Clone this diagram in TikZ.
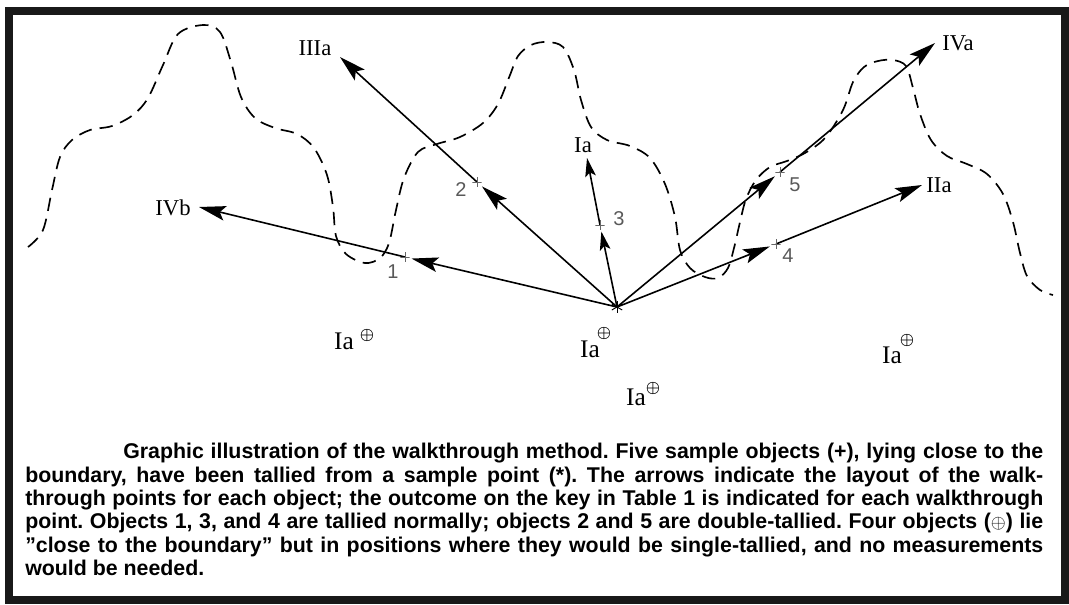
\documentclass[tikz,border=0pt]{standalone}
\usepackage{fontspec}
\setmainfont{Liberation Serif}
\newfontfamily\capfont{Liberation Sans}
\usetikzlibrary{arrows.meta}
\begin{document}
\begin{tikzpicture}[x=0.75pt,y=-0.75pt,
  arr/.style={line width=1.2pt, shorten >=5pt, -{Stealth[length=20pt,width=11pt,inset=4pt]}},
  arrw/.style={line width=1.2pt, -{Stealth[length=20pt,width=11pt,inset=4pt]}},
  arrs/.style={line width=1.2pt, shorten >=5pt, -{Stealth[length=14pt,width=8pt,inset=3pt]}},
  arrsw/.style={line width=1.2pt, -{Stealth[length=14pt,width=8pt,inset=3pt]}},
  bnd/.style={line width=1.25pt, dash pattern=on 10pt off 6pt},
  walk/.style={font=\fontsize{17}{17}\selectfont, inner sep=0pt},
  iaf/.style={font=\fontsize{19}{19}\selectfont, inner sep=0pt},
  supmark/.style={font=\fontsize{12}{12}\selectfont\boldmath, inner sep=0pt},
  num/.style={font=\capfont\fontsize{15}{15}\selectfont, inner sep=0pt, text=black!65},
  plusmark/.style={minimum size=7pt, inner sep=0pt,
    path picture={\draw[line width=0.6pt, black!60]
      (path picture bounding box.north) -- (path picture bounding box.south)
      (path picture bounding box.west) -- (path picture bounding box.east);}},
  starmark/.style={minimum size=9pt, inner sep=0pt,
    path picture={\foreach \a in {90,30,150}{\draw[line width=0.7pt]
      (path picture bounding box.center) ++(\a:4.5pt) -- ++(\a+180:9pt);}}}
]
\useasboundingbox (0,0) rectangle (1069,604);
% frame
\draw[line width=6pt, black!90] (9,11) rectangle (1065,600);

% boundary
\draw[bnd] plot[smooth, tension=0.55] coordinates {
(28,247) (43,230) (52,190) (60,157) (72,140) (90,130) (112,126) (133,115)
(148,98) (163,65) (178,34) (203,25) (220,32) (231,62) (241,97) (255,118)
(275,128) (297,134) (314,148) (327,175) (333,207) (336,236) (346,254)
(365,263) (380,258) (389,243) (396,210) (404,178) (418,152) (437,144)
(460,137) (483,123) (498,104) (510,75) (518,56) (531,45) (547,42) (563,47)
(574,70) (581,100) (591,127) (607,140) (630,146) (650,158) (665,184)
(675,217) (680,250) (690,268) (705,277) (718,278) (728,268) (734,248)
(740,222) (746,199) (756,180) (770,167) (787,161) (805,153) (825,138)
(843,110) (853,82) (864,67) (878,61) (893,60) (906,66) (913,88) (920,114)
(931,140) (947,156) (967,164) (987,174) (1003,194) (1013,222) (1020,253)
(1027,276) (1040,290) (1053,295)};

% sample point and objects
\coordinate (S) at (617,307);
\coordinate (o1) at (405,257);
\coordinate (o2) at (477,182);
\coordinate (o3) at (600,225);
\coordinate (o4) at (776,244);
\coordinate (o5) at (780,172);
% walkthrough points
\coordinate (wIVb) at (199,207);
\coordinate (wIIIa) at (340,57);
\coordinate (wIa) at (587,158);
\coordinate (wIVa) at (935,43);
\coordinate (wIIa) at (922,185);

\draw[arr] (S) -- (o1);
\draw[arrw] (o1) -- (wIVb);
\draw[arr] (S) -- (o2);
\draw[arrw] (o2) -- (wIIIa);
\draw[arrs] (S) -- (o3);
\draw[arrsw] (o3) -- (wIa);
\draw[arr] (S) -- (o4);
\draw[arrw] (o4) -- (wIIa);
\draw[arr] (S) -- (o5);
\draw[arrw] (o5) -- (wIVa);

\node[starmark] (star) at (S) {};
\node[plusmark] (p1) at (o1) {};
\node[plusmark] (p2) at (o2) {};
\node[plusmark] (p3) at (o3) {};
\node[plusmark] (p4) at (o4) {};
\node[plusmark] (p5) at (o5) {};

\node[num] (n1) at (393,272) {1};
\node[num] (n2) at (461,190) {2};
\node[num] (n3) at (619,219) {3};
\node[num] (n4) at (788,256) {4};
\node[num] (n5) at (795,185) {5};

\node[walk] (lIVb) at (173,208) {IVb};
\node[walk] (lIIIa) at (315,48) {IIIa};
\node[walk] (lIa) at (583,145) {Ia};
\node[walk] (lIVa) at (958,43) {IVa};
\node[walk] (lIIa) at (939,185) {IIa};

% single-tallied objects
\node[iaf] (ia1) at (344,341) {Ia};
\node[supmark] (s1) at (367,335) {$\oplus$};
\node[iaf] (ia2) at (590,349) {Ia};
\node[supmark] (s2) at (604,333) {$\oplus$};
\node[iaf] (ia3) at (636,397) {Ia};
\node[supmark] (s3) at (653,388) {$\oplus$};
\node[iaf] (ia4) at (892,355) {Ia};
\node[supmark] (s4) at (907,340) {$\oplus$};

% caption
\node[anchor=north west, inner sep=0pt, text width=763.5pt, align=justify,
  font=\capfont\bfseries\fontsize{16}{17.5}\selectfont] (cap) at (25,443)
{\frenchspacing\hyphenpenalty=10000\hspace*{73.5pt}Graphic illustration of the walkthrough method. Five sample objects (+), lying close to the\linebreak
boundary, have been tallied from a sample point (*). The arrows indicate the layout of the walk-\linebreak
through points for each object; the outcome on the key in Table 1 is indicated for each walkthrough\linebreak
point. Objects 1, 3, and 4 are tallied normally; objects 2 and 5 are double-tallied. Four objects ({\mdseries\fontsize{14}{14}\selectfont$\oplus$}) lie\linebreak
”close to the boundary” but in positions where they would be single-tallied, and no measurements\linebreak
would be needed.};
\end{tikzpicture}
\end{document}
